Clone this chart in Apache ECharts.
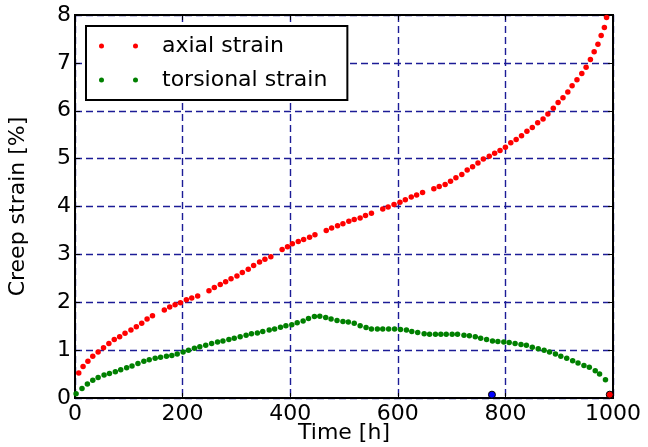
<!DOCTYPE html>
<html>
<head>
<meta charset="utf-8">
<script src="https://cdn.jsdelivr.net/npm/echarts@6/dist/echarts.min.js"></script>
<style>
  html, body { margin: 0; padding: 0; background: #fff; }
  #chart { width: 648px; height: 447px; }
</style>
</head>
<body>
<div id="chart"></div>
<script>
// Creep test: axial and torsional strain versus time
const axialTime = [7, 15, 24, 33, 43, 53, 63, 73, 83, 93, 104, 114, 124, 134, 144, 166, 176, 186, 196, 207, 217, 228, 249, 259, 270, 280, 290, 301, 311, 322, 332, 343, 353, 364, 385, 395, 404, 415, 425, 436, 446, 467, 477, 488, 498, 509, 519, 530, 540, 551, 572, 582, 593, 604, 614, 625, 635, 646, 667, 677, 688, 698, 708, 719, 729, 739, 749, 759, 770, 780, 790, 800, 810, 820, 830, 840, 850, 860, 870, 879, 889, 898, 907, 916, 924, 933, 942, 950, 958, 965, 972, 978, 984, 988];
const axialStrain = [0.52, 0.66, 0.77, 0.87, 0.96, 1.05, 1.14, 1.22, 1.28, 1.35, 1.42, 1.49, 1.56, 1.65, 1.72, 1.84, 1.90, 1.95, 1.99, 2.05, 2.09, 2.13, 2.24, 2.31, 2.37, 2.43, 2.49, 2.55, 2.62, 2.69, 2.77, 2.84, 2.90, 2.95, 3.10, 3.16, 3.22, 3.27, 3.31, 3.36, 3.41, 3.50, 3.55, 3.60, 3.64, 3.69, 3.73, 3.76, 3.81, 3.86, 3.95, 3.99, 4.04, 4.09, 4.14, 4.20, 4.24, 4.29, 4.37, 4.42, 4.46, 4.53, 4.60, 4.67, 4.76, 4.83, 4.91, 4.99, 5.05, 5.11, 5.17, 5.24, 5.33, 5.40, 5.48, 5.57, 5.65, 5.75, 5.83, 5.93, 6.05, 6.17, 6.27, 6.39, 6.52, 6.65, 6.78, 6.91, 7.07, 7.23, 7.39, 7.57, 7.74, 7.95];

const torsionTime = [2, 13, 23, 33, 43, 54, 64, 75, 85, 96, 106, 117, 128, 138, 149, 159, 170, 180, 190, 201, 211, 222, 232, 243, 254, 265, 275, 286, 296, 307, 318, 328, 339, 349, 361, 371, 382, 392, 403, 413, 424, 434, 445, 455, 466, 476, 487, 498, 508, 519, 530, 541, 551, 562, 572, 583, 594, 605, 616, 626, 637, 649, 659, 670, 680, 690, 701, 711, 723, 733, 744, 754, 765, 776, 786, 797, 807, 818, 829, 839, 850, 861, 872, 882, 893, 903, 914, 925, 935, 946, 956, 967, 975, 986];
const torsionStrain = [0.09, 0.20, 0.29, 0.37, 0.43, 0.48, 0.51, 0.55, 0.59, 0.63, 0.67, 0.72, 0.77, 0.80, 0.83, 0.85, 0.87, 0.89, 0.92, 0.96, 1.00, 1.04, 1.07, 1.10, 1.14, 1.17, 1.19, 1.22, 1.25, 1.28, 1.31, 1.34, 1.36, 1.39, 1.42, 1.44, 1.48, 1.51, 1.53, 1.57, 1.61, 1.66, 1.70, 1.71, 1.68, 1.65, 1.62, 1.60, 1.59, 1.56, 1.51, 1.47, 1.44, 1.44, 1.44, 1.44, 1.44, 1.43, 1.42, 1.39, 1.37, 1.34, 1.33, 1.33, 1.33, 1.33, 1.33, 1.33, 1.31, 1.30, 1.28, 1.25, 1.22, 1.19, 1.18, 1.17, 1.16, 1.14, 1.12, 1.10, 1.06, 1.03, 1.00, 0.96, 0.92, 0.87, 0.83, 0.78, 0.73, 0.68, 0.64, 0.57, 0.50, 0.38];

// Single highlighted events on the time axis
const eventTime = [775, 994];
const eventStrain = [0.07, 0.07];

const xTicks = { min: 0, max: 1000, interval: 200 };
const yTicks = { min: 0, max: 8, interval: 1 };

const FONT = 'DejaVu Sans';
const zip = (a, b) => a.map((v, i) => [v, b[i]]);
const twoDots = 'path://M0,2.5a2.5,2.5 0 1,0 5,0a2.5,2.5 0 1,0 -5,0M34,2.5a2.5,2.5 0 1,0 5,0a2.5,2.5 0 1,0 -5,0';

const gridLine = { show: true, lineStyle: { color: '#1c1c96', type: [7, 4], width: 1.4 } };
const tickStyle = { show: true, inside: true, length: 5, lineStyle: { color: '#000', width: 1 } };
const frameLine = { show: true, onZero: false, lineStyle: { color: '#000', width: 2 } };
const plainNumber = v => String(v);

const chart = echarts.init(document.getElementById('chart'), null, { renderer: 'canvas' });
chart.setOption({
  animation: false,
  backgroundColor: '#fff',
  textStyle: { fontFamily: FONT },
  grid: {
    left: 75, right: 35, top: 15, bottom: 49,
    containLabel: false, outerBoundsMode: 'none',
    show: true, borderColor: '#000', borderWidth: 2
  },
  xAxis: [
    {
      type: 'value', ...xTicks,
      axisLine: frameLine, axisTick: tickStyle, splitLine: gridLine,
      axisLabel: { color: '#000', fontSize: 22, fontFamily: FONT, margin: 5, formatter: plainNumber },
      name: 'Time [h]', nameLocation: 'middle', nameGap: 24, nameMoveOverlap: false,
      nameTextStyle: { color: '#000', fontSize: 22, fontFamily: FONT, verticalAlign: 'top' }
    },
    {
      type: 'value', position: 'top', ...xTicks,
      axisLine: frameLine, axisTick: tickStyle, splitLine: { show: false }, axisLabel: { show: false }
    }
  ],
  yAxis: [
    {
      type: 'value', ...yTicks,
      axisLine: frameLine, axisTick: tickStyle, splitLine: gridLine,
      axisLabel: { color: '#000', fontSize: 22, fontFamily: FONT, margin: 4, formatter: plainNumber },
      name: 'Creep strain [%]', nameLocation: 'middle', nameGap: 46, nameRotate: 90, nameMoveOverlap: false,
      nameTextStyle: { color: '#000', fontSize: 22, fontFamily: FONT }
    },
    {
      type: 'value', position: 'right', ...yTicks,
      axisLine: frameLine, axisTick: tickStyle, splitLine: { show: false }, axisLabel: { show: false }
    }
  ],
  legend: {
    data: ['axial strain', 'torsional strain'],
    orient: 'vertical', left: 86, top: 26,
    backgroundColor: '#fff', borderColor: '#000', borderWidth: 2, borderRadius: 0,
    padding: [8, 20, 8, 13], itemGap: 10,
    icon: twoDots, itemWidth: 39, itemHeight: 5,
    textStyle: { color: '#000', fontSize: 22, fontFamily: FONT, lineHeight: 24, padding: [0, 0, 0, 19] }
  },
  series: [
    {
      name: 'axial strain', type: 'scatter', symbol: 'circle', symbolSize: 5.5,
      itemStyle: { color: '#ff0000', opacity: 1 }, emphasis: { disabled: true },
      data: zip(axialTime, axialStrain)
    },
    {
      name: 'torsional strain', type: 'scatter', symbol: 'circle', symbolSize: 5.5,
      itemStyle: { color: '#008000', opacity: 1 }, emphasis: { disabled: true },
      data: zip(torsionTime, torsionStrain)
    },
    {
      name: 'events', type: 'scatter', symbol: 'circle', symbolSize: 7, z: 5,
      emphasis: { disabled: true },
      data: zip(eventTime, eventStrain).map((p, i) => ({
        value: p,
        itemStyle: { color: i === 0 ? '#0000ff' : '#ff0000', opacity: 1, borderColor: '#000', borderWidth: 1 }
      }))
    }
  ]
});
</script>
</body>
</html>
